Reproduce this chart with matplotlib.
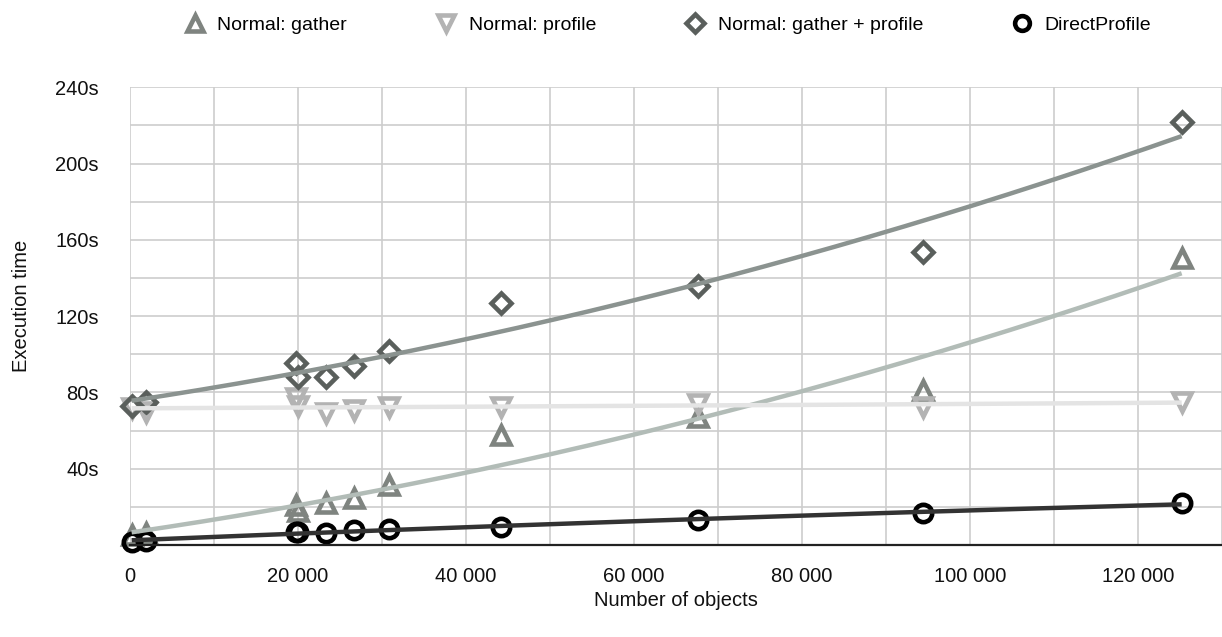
import numpy as np
import matplotlib
matplotlib.use("Agg")
import matplotlib.pyplot as plt
from matplotlib.ticker import FuncFormatter, MultipleLocator

plt.rcParams['font.family'] = ['Liberation Sans', 'DejaVu Sans']

# Number of objects for each measurement
objects = [250, 2000, 19800, 20000, 23400, 26700, 30900, 44200, 67600, 94400, 125200]

# Execution times in seconds
gather = [5, 6.5, 21, 18, 22, 24.5, 31.5, 57.5, 67, 81.3, 150.3]
profile = [72, 70, 77, 73, 69, 70.8, 72.4, 72.5, 74, 72.5, 75.2]
gather_profile = [73, 75, 95.3, 88.3, 88.3, 93.9, 101.9, 127.1, 135.8, 153.8, 222]
direct = [1.7, 2.2, 7.0, 6.8, 6.1, 7.9, 8.2, 9.6, 13.1, 16.6, 21.9]

series = [
    ("Normal: gather", gather, "^", "#7f8480", "#b2bcb7"),
    ("Normal: profile", profile, "v", "#b3b3b3", "#e4e4e4"),
    ("Normal: gather + profile", gather_profile, "D", "#5a5f5c", "#8b9390"),
    ("DirectProfile", direct, "o", "#000000", "#333333"),
]
marker_sizes = {"^": 13, "v": 13, "D": 10.5, "o": 12.5}

fig = plt.figure(figsize=(12.22, 6.37), dpi=100)
ax = fig.add_axes([0.106, 0.1444, 0.894, 0.7186])

x = np.array(objects, dtype=float)
xs = np.linspace(x.min(), x.max(), 300)
handles = []
for name, vals, mk, col, tcol in series:
    h, = ax.plot(objects, vals, linestyle="none", marker=mk,
                 markersize=marker_sizes[mk], markerfacecolor="none",
                 markeredgecolor=col, markeredgewidth=3.3, zorder=3,
                 label=name, clip_on=False)
    handles.append(h)
    # second-order polynomial trendline
    coef = np.polyfit(x, np.array(vals, dtype=float), 2)
    ax.plot(xs, np.polyval(coef, xs), color=tcol, linewidth=3.2,
            solid_capstyle="butt", zorder=4)

ax.set_xlim(0, 130000)
ax.set_ylim(0, 240)

ax.xaxis.set_major_locator(MultipleLocator(10000))
ax.yaxis.set_major_locator(MultipleLocator(20))

def fmt_x(v, pos):
    v = int(round(v))
    if v % 20000:
        return ""
    return f"{v:,}".replace(",", " ")

def fmt_y(v, pos):
    v = int(round(v))
    if v == 0 or v % 40:
        return ""
    return f"{v}s"

ax.xaxis.set_major_formatter(FuncFormatter(fmt_x))
ax.yaxis.set_major_formatter(FuncFormatter(fmt_y))
ax.tick_params(axis="both", length=0, labelsize=14.5, colors="#111111")
ax.tick_params(axis="y", pad=22)
ax.tick_params(axis="x", pad=16)

ax.grid(True, color="#cdcdcd", linewidth=1.2, zorder=0)
ax.set_axisbelow(True)
for side in ("top", "right", "left"):
    ax.spines[side].set_visible(False)
ax.spines["bottom"].set_color("#222222")
ax.spines["bottom"].set_linewidth(1.6)
ax.spines["bottom"].set_zorder(5)

fig.text(0.0175, 0.52, "Execution time", rotation=90, ha="center",
         va="center", fontsize=14.5, color="#111111")
fig.text(0.553, 0.057, "Number of objects", ha="center", va="center",
         fontsize=14.5, color="#111111")

leg = fig.legend(handles=handles, loc="center", ncol=4,
                 bbox_to_anchor=(0.546, 0.961), frameon=False,
                 fontsize=14, handlelength=1.2, handletextpad=0.55,
                 columnspacing=4.5, markerscale=0.85)

fig.savefig("out.png", dpi=100)
